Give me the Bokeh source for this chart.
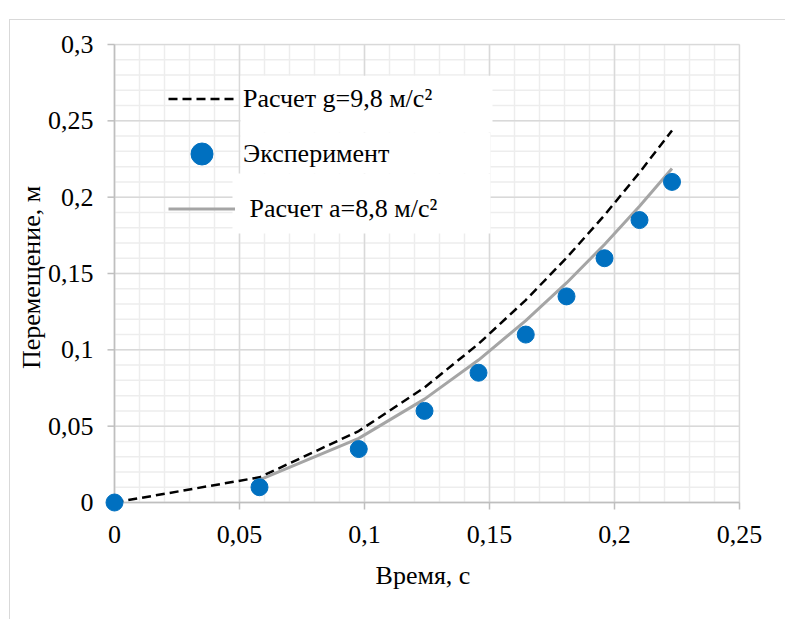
from bokeh.plotting import figure
from bokeh.models import FixedTicker, Legend, LegendItem, BoxAnnotation
from bokeh.embed import file_html
from bokeh.resources import INLINE

# ---- data ----
t_exp = [0, 0.058, 0.0977, 0.124, 0.1456, 0.1645, 0.1808, 0.196, 0.21, 0.223]
s_exp = [0, 0.01, 0.035, 0.06, 0.085, 0.11, 0.135, 0.16, 0.185, 0.21]

t_g = [0, 0.058, 0.0977, 0.124, 0.1456, 0.1645, 0.1808, 0.196, 0.21, 0.223]
s_g = [0, 0.0165, 0.0468, 0.0753, 0.1039, 0.1326, 0.1602, 0.1882, 0.2161, 0.2437]

t_a = [0.058, 0.0977, 0.124, 0.1456, 0.1645, 0.1808, 0.196, 0.21, 0.223]
s_a = [0.0148, 0.0420, 0.0677, 0.0933, 0.1191, 0.1438, 0.1690, 0.1940, 0.2188]

x_ticks = [0, 0.05, 0.1, 0.15, 0.2, 0.25]
x_tick_labels = ["0", "0,05", "0,1", "0,15", "0,2", "0,25"]
y_ticks = [0, 0.05, 0.1, 0.15, 0.2, 0.25, 0.3]
y_tick_labels = ["0", "0,05", "0,1", "0,15", "0,2", "0,25", "0,3"]
x_minor = [i / 100 for i in range(0, 26)]
y_minor = [i / 100 for i in range(0, 31)]

label_g = "Расчет g=9,8 м/с²"
label_exp = "Эксперимент"
label_a = " Расчет a=8,8 м/с²"
x_title = "Время, с"
y_title = "Перемещение, м"

FONT = "Liberation Serif"
FS = "26px"

x0, x1 = x_ticks[0], x_ticks[-1]
y0, y1 = y_ticks[0], y_ticks[-1]
XPX = 0.25 / 625   # data units per pixel (x)
YPX = 0.3 / 458    # data units per pixel (y)
TICK = 7           # tick length, px

p = figure(width=776, height=600,
           x_range=(x0 - 9 * XPX, x1 + 1 * XPX), y_range=(y0 - 9 * YPX, y1 + 1 * YPX),
           output_backend="svg", toolbar_location=None,
           min_border_left=95, min_border_right=46,
           min_border_top=23, min_border_bottom=109)
p.styles = {"margin-top": "19px", "margin-left": "9px",
            "border-top": "1px solid #d9d9d9", "border-left": "1px solid #d9d9d9"}
p.outline_line_color = None
p.background_fill_color = "white"
p.xgrid.visible = False
p.ygrid.visible = False

# grid lines built from the tick lists, limited to the data rectangle
p.segment(x0=x_minor, x1=x_minor, y0=[y0] * len(x_minor), y1=[y1] * len(x_minor),
          line_color="#ededed", line_width=1.5, level="underlay")
p.segment(x0=[x0] * len(y_minor), x1=[x1] * len(y_minor), y0=y_minor, y1=y_minor,
          line_color="#ededed", line_width=1.5, level="underlay")
p.segment(x0=x_ticks, x1=x_ticks, y0=[y0] * len(x_ticks), y1=[y1] * len(x_ticks),
          line_color="#d9d9d9", line_width=1.5, level="underlay")
p.segment(x0=[x0] * len(y_ticks), x1=[x1] * len(y_ticks), y0=y_ticks, y1=y_ticks,
          line_color="#d9d9d9", line_width=1.5, level="underlay")

# axis lines and outward ticks at x=0 / y=0
p.segment(x0=[x0, x0], x1=[x1, x0], y0=[y0, y0], y1=[y0, y1],
          line_color="#bfbfbf", line_width=1.5, level="guide")
p.segment(x0=x_ticks, x1=x_ticks, y0=[y0] * len(x_ticks),
          y1=[y0 - TICK * YPX] * len(x_ticks),
          line_color="#bfbfbf", line_width=1.5, level="guide")
p.segment(x0=[x0] * len(y_ticks), x1=[x0 - TICK * XPX] * len(y_ticks),
          y0=y_ticks, y1=y_ticks,
          line_color="#bfbfbf", line_width=1.5, level="guide")

p.xaxis.ticker = FixedTicker(ticks=x_ticks, minor_ticks=[])
p.yaxis.ticker = FixedTicker(ticks=y_ticks, minor_ticks=[])
p.xaxis.major_label_overrides = dict(zip(x_ticks, x_tick_labels))
p.yaxis.major_label_overrides = dict(zip(y_ticks, y_tick_labels))

for ax in (p.xaxis, p.yaxis):
    ax.major_label_text_font = FONT
    ax.major_label_text_font_size = FS
    ax.major_label_text_color = "black"
    ax.axis_label_text_font = FONT
    ax.axis_label_text_font_size = FS
    ax.axis_label_text_font_style = "normal"
    ax.axis_label_text_color = "black"
    ax.axis_line_color = None
    ax.major_tick_line_color = None
    ax.major_tick_in = 0
    ax.major_tick_out = 0
    ax.minor_tick_line_color = None
    ax.minor_tick_in = 0
    ax.minor_tick_out = 0

p.xaxis.axis_label = x_title
p.yaxis.axis_label = y_title
p.xaxis.major_label_standoff = 14
p.yaxis.major_label_standoff = 12
p.xaxis.axis_label_standoff = 15
p.yaxis.axis_label_standoff = -1

# white boxes behind legend texts
for (l, r, b, t) in [(0.0504, 0.1512, 0.2423, 0.2796),
                     (0.0504, 0.1504, 0.2155, 0.2423),
                     (0.0472, 0.1504, 0.1762, 0.2155)]:
    p.add_layout(BoxAnnotation(left=l, right=r, bottom=b, top=t,
                               fill_color="white", fill_alpha=1,
                               line_color=None, level="underlay"))

r_g = p.line(t_g, s_g, line_color="black", line_width=2.5, line_dash="9 5")
r_a = p.line(t_a, s_a, line_color="#a5a5a5", line_width=3)
r_e = p.scatter(t_exp, s_exp, size=17, fill_color="#0070c0", line_color="#0070c0",
                level="overlay")

legend = Legend(items=[LegendItem(label=label_g, renderers=[r_g]),
                       LegendItem(label=label_exp, renderers=[r_e]),
                       LegendItem(label=label_a, renderers=[r_a])],
                location=(63, 275), orientation="vertical",
                glyph_width=67, glyph_height=55, label_height=55,
                spacing=0, padding=0, margin=0, label_standoff=8,
                label_text_font=FONT, label_text_font_size=FS,
                label_text_color="black",
                background_fill_alpha=0, border_line_alpha=0)
p.add_layout(legend)

open("out.html", "w").write(file_html(p, INLINE))
